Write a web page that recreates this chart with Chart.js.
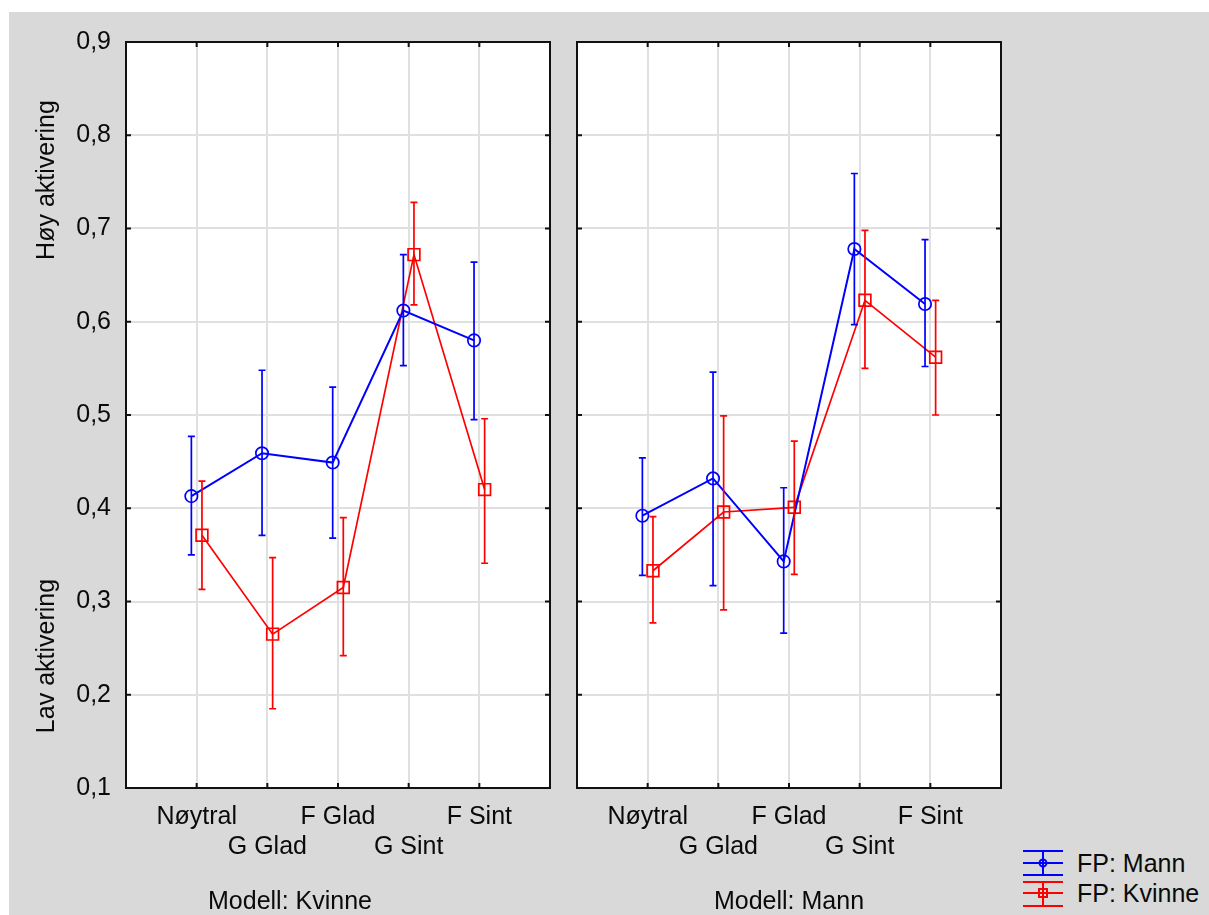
<!DOCTYPE html>
<html>
<head>
<meta charset="utf-8">
<script src="https://cdn.jsdelivr.net/npm/chart.js@4.4.1/dist/chart.umd.min.js"></script>
<style>
  html, body { margin: 0; padding: 0; background: #ffffff; width: 1209px; height: 915px; overflow: hidden; }
  #bg { position: absolute; left: 9px; top: 12px; width: 1200px; height: 903px; background: #d9d9d9; }
  canvas { position: absolute; top: 0; }
  .txt { position: absolute; font-family: "Liberation Sans", Arial, sans-serif; font-size: 25px; color: #0a0a0a; white-space: nowrap; transform: translate(-50%, -50%); }
  .rot { transform: translate(-50%, -50%) rotate(-90deg); }
  .legtxt { position: absolute; font-family: "Liberation Sans", Arial, sans-serif; font-size: 25px; color: #0a0a0a; white-space: nowrap; transform: translateY(-50%); }
</style>
</head>
<body>
<div id="bg"></div>
<canvas id="left" width="564" height="915" style="left:0px;width:564px;height:915px"></canvas>
<canvas id="right" width="455" height="915" style="left:560px;width:455px;height:915px"></canvas>

<div class="txt rot" style="left:45px; top:180px;">Høy aktivering</div>
<div class="txt rot" style="left:45px; top:656px;">Lav aktivering</div>
<div class="txt" style="left:290px; top:900px;">Modell: Kvinne</div>
<div class="txt" style="left:789px; top:900px;">Modell: Mann</div>

<svg style="position:absolute;left:1018px;top:845px" width="50" height="66" viewBox="0 0 50 66">
  <g stroke="#0000ff" stroke-width="2" fill="none">
    <line x1="5" y1="6" x2="45" y2="6"/>
    <line x1="5" y1="18" x2="45" y2="18"/>
    <line x1="5" y1="30" x2="45" y2="30"/>
    <line x1="25" y1="6" x2="25" y2="30"/>
    <circle cx="25" cy="18" r="3.5"/>
  </g>
  <g stroke="#ff0000" stroke-width="2" fill="none">
    <line x1="5" y1="37" x2="45" y2="37"/>
    <line x1="5" y1="48" x2="45" y2="48"/>
    <line x1="5" y1="61" x2="45" y2="61"/>
    <line x1="25" y1="37" x2="25" y2="61"/>
    <rect x="21" y="44" width="8" height="8"/>
  </g>
</svg>
<div class="legtxt" style="left:1077px; top:863px;">FP: Mann</div>
<div class="legtxt" style="left:1077px; top:893px;">FP: Kvinne</div>

<script>
// ---- Data ----
const categories = ['Nøytral', 'G Glad', 'F Glad', 'G Sint', 'F Sint'];
const yTickLabels = ['0,1', '0,2', '0,3', '0,4', '0,5', '0,6', '0,7', '0,8', '0,9'];
const seriesNames = ['FP: Mann', 'FP: Kvinne'];

// Panel 1: Modell: Kvinne
const kvinneModel_mannMean = [0.413, 0.459, 0.449, 0.612, 0.580];
const kvinneModel_mannLow  = [0.350, 0.371, 0.368, 0.553, 0.495];
const kvinneModel_mannHigh = [0.477, 0.548, 0.530, 0.672, 0.664];
const kvinneModel_kvinneMean = [0.371, 0.265, 0.315, 0.672, 0.420];
const kvinneModel_kvinneLow  = [0.313, 0.185, 0.242, 0.618, 0.341];
const kvinneModel_kvinneHigh = [0.429, 0.347, 0.390, 0.728, 0.496];

// Panel 2: Modell: Mann
const mannModel_mannMean = [0.392, 0.432, 0.343, 0.678, 0.619];
const mannModel_mannLow  = [0.328, 0.317, 0.266, 0.597, 0.552];
const mannModel_mannHigh = [0.454, 0.546, 0.422, 0.759, 0.688];
const mannModel_kvinneMean = [0.333, 0.396, 0.401, 0.623, 0.562];
const mannModel_kvinneLow  = [0.277, 0.291, 0.329, 0.550, 0.500];
const mannModel_kvinneHigh = [0.391, 0.499, 0.472, 0.698, 0.623];

// ---- Styling ----
const BLUE = '#0000ff';
const RED = '#ff0000';
const DODGE = 0.075;
const FONT = { family: '"Liberation Sans", Arial, sans-serif', size: 25 };

function pts(values, shift) {
  return values.map((v, i) => ({ x: i + 1 + shift, y: v }));
}

const panelPlugin = {
  id: 'panelPlugin',
  beforeDraw(chart) {
    const a = chart.chartArea, ctx = chart.ctx;
    ctx.save();
    ctx.fillStyle = '#ffffff';
    ctx.fillRect(a.left, a.top, a.right - a.left, a.bottom - a.top);
    ctx.restore();
  },
  afterDatasetsDraw(chart) {
    const ctx = chart.ctx, ys = chart.scales.y;
    chart.data.datasets.forEach((ds, di) => {
      const meta = chart.getDatasetMeta(di);
      ctx.save();
      ctx.strokeStyle = ds.borderColor;
      ctx.lineWidth = 1.7;
      meta.data.forEach((pt, i) => {
        const x = pt.x;
        const yl = ys.getPixelForValue(ds.errLow[i]);
        const yh = ys.getPixelForValue(ds.errHigh[i]);
        ctx.beginPath();
        ctx.moveTo(x, yl); ctx.lineTo(x, yh);
        ctx.moveTo(x - 3.5, yl); ctx.lineTo(x + 3.5, yl);
        ctx.moveTo(x - 3.5, yh); ctx.lineTo(x + 3.5, yh);
        ctx.stroke();
      });
      ctx.restore();
    });
  },
  afterDraw(chart) {
    const a = chart.chartArea, ctx = chart.ctx;
    const xs = chart.scales.x, ys = chart.scales.y;
    ctx.save();
    ctx.strokeStyle = '#111111';
    ctx.lineWidth = 2;
    ctx.strokeRect(a.left, a.top, a.right - a.left, a.bottom - a.top);
    ctx.beginPath();
    for (let i = 1; i <= categories.length; i++) {
      const px = xs.getPixelForValue(i);
      ctx.moveTo(px, a.top); ctx.lineTo(px, a.top + 5);
      ctx.moveTo(px, a.bottom); ctx.lineTo(px, a.bottom - 5);
    }
    for (let k = 1; k < yTickLabels.length - 1; k++) {
      const py = ys.getPixelForValue(0.1 + k * 0.1);
      ctx.moveTo(a.left, py); ctx.lineTo(a.left + 5, py);
      ctx.moveTo(a.right, py); ctx.lineTo(a.right - 5, py);
    }
    ctx.stroke();
    ctx.restore();
  }
};

function makeChart(id, mann, kvinne, opts) {
  const ctx = document.getElementById(id);
  return new Chart(ctx, {
    type: 'line',
    data: {
      datasets: [
        {
          label: seriesNames[0],
          data: pts(mann.mean, -DODGE),
          errLow: mann.low, errHigh: mann.high,
          borderColor: BLUE, borderWidth: 2,
          pointStyle: 'circle', pointRadius: 6.2,
          pointBorderColor: BLUE, pointBackgroundColor: 'rgba(0,0,0,0)', pointBorderWidth: 1.7,
          tension: 0, fill: false
        },
        {
          label: seriesNames[1],
          data: pts(kvinne.mean, DODGE),
          errLow: kvinne.low, errHigh: kvinne.high,
          borderColor: RED, borderWidth: 1.7,
          pointStyle: 'rect', pointRadius: 8.3,
          pointBorderColor: RED, pointBackgroundColor: 'rgba(0,0,0,0)', pointBorderWidth: 1.7,
          tension: 0, fill: false
        }
      ]
    },
    options: {
      responsive: false,
      animation: false,
      events: [],
      layout: { padding: { top: 42, right: 0, bottom: 0, left: 0 } },
      plugins: { legend: { display: false }, tooltip: { enabled: false } },
      scales: {
        x: {
          type: 'linear', min: 0, max: 6,
          afterFit(s) { s.height = 915 - 788; },
          afterBuildTicks(s) { s.ticks = [0, 1, 2, 3, 4, 5, 6].map(v => ({ value: v })); },
          grid: { color: '#e0e0e0', lineWidth: 2, drawTicks: false },
          border: { display: false },
          ticks: {
            autoSkip: false, maxRotation: 0, minRotation: 0, padding: 14,
            color: '#0a0a0a', font: FONT,
            callback(v) {
              const i = Math.round(v) - 1;
              if (i < 0 || i >= categories.length) return '';
              return i % 2 === 0 ? [categories[i]] : ['', categories[i]];
            }
          }
        },
        y: {
          type: 'linear', min: 0.1, max: 0.9,
          afterFit(s) { s.width = opts.yWidth; },
          afterBuildTicks(s) { s.ticks = yTickLabels.map((t, k) => ({ value: 0.1 + k * 0.1 })); },
          grid: { color: '#e0e0e0', lineWidth: 2, drawTicks: false },
          border: { display: false },
          ticks: {
            display: opts.showY, padding: 15, color: '#0a0a0a', font: FONT,
            callback(v, index) { return yTickLabels[index]; }
          }
        }
      }
    },
    plugins: [panelPlugin]
  });
}

makeChart('left',
  { mean: kvinneModel_mannMean, low: kvinneModel_mannLow, high: kvinneModel_mannHigh },
  { mean: kvinneModel_kvinneMean, low: kvinneModel_kvinneLow, high: kvinneModel_kvinneHigh },
  { yWidth: 126, showY: true });

makeChart('right',
  { mean: mannModel_mannMean, low: mannModel_mannLow, high: mannModel_mannHigh },
  { mean: mannModel_kvinneMean, low: mannModel_kvinneLow, high: mannModel_kvinneHigh },
  { yWidth: 17, showY: false });
</script>
</body>
</html>
